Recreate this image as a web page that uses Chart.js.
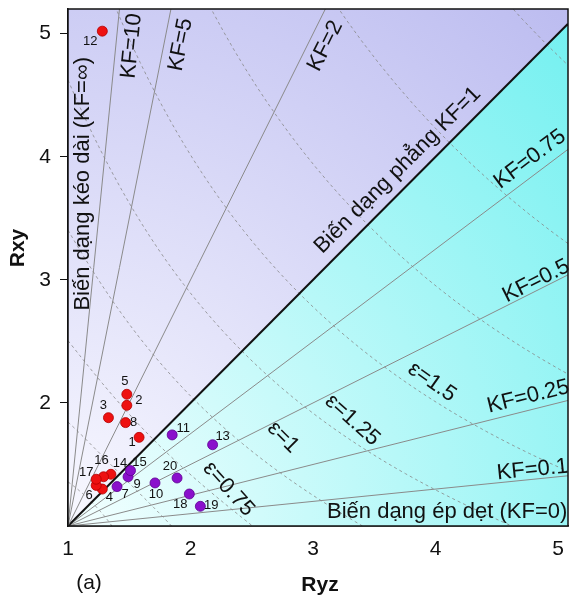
<!DOCTYPE html>
<html>
<head>
<meta charset="utf-8">
<script src="https://cdn.jsdelivr.net/npm/chart.js@4.4.1/dist/chart.umd.min.js"></script>
<style>
  html, body { margin: 0; padding: 0; background: #fff; }
  #wrap { width: 569px; height: 602px; }
</style>
</head>
<body>
<div id="wrap"><canvas id="myChart" width="569" height="602"></canvas></div>
<script>
// samples above the plane strain line (red) and below it (purple)
const redIds = [1, 2, 3, 4, 5, 6, 8, 12, 14, 16, 17];
const redRyz = [1.58, 1.48, 1.33, 1.28, 1.48, 1.23, 1.47, 1.28, 1.35, 1.29, 1.23];
const redRxy = [1.72, 1.98, 1.88, 1.30, 2.07, 1.33, 1.84, 5.02, 1.42, 1.40, 1.38];

const purpleIds = [7, 9, 10, 11, 13, 15, 18, 19, 20];
const purpleRyz = [1.40, 1.49, 1.71, 1.85, 2.18, 1.51, 1.99, 2.08, 1.89];
const purpleRxy = [1.32, 1.40, 1.35, 1.74, 1.66, 1.45, 1.26, 1.16, 1.39];

const kfValues = [10, 5, 2, 1, 0.75, 0.5, 0.25, 0.1];
const epsValues = [0.25, 0.5, 0.75, 1, 1.25, 1.5, 1.75, 2, 2.25];
const xTicks = [1, 2, 3, 4, 5];
const yTicks = [2, 3, 4, 5];

const X_MIN = 1, X_MAX = 5.08, Y_MIN = 1, Y_MAX = 5.2;
const FONT = 'Arial, "Liberation Sans", sans-serif';

// where the little sample numbers sit, in pixels from the dot
const labelOffset = {
  1: [-7, 5], 2: [12, -5], 3: [-5, -12], 4: [7, 8], 5: [-2, -13], 6: [-7, 10],
  7: [8, 8], 8: [8, 0], 9: [9, 8], 10: [1, 12], 11: [11, -6], 12: [-12, 10],
  13: [10, -8], 14: [9, -11], 15: [9, -8], 16: [-2, -16], 17: [-10, -7],
  18: [-9, 10], 19: [11, -1], 20: [-7, -12]
};

// texts on the diagram: [text, Ryz, Rxy, rotation deg]
const notes = [
  ['Biến dạng kéo dài (KF=∞)', 1.12, 3.78, -90],
  ['KF=10', 1.52, 4.90, -84.3],
  ['KF=5', 1.92, 4.91, -78.7],
  ['KF=2', 3.10, 4.90, -63.4],
  ['Biến dạng phẳng KF=1', 3.69, 3.89, -45],
  ['KF=0.75', 4.77, 3.98, -36.9],
  ['KF=0.5', 4.82, 2.99, -26.6],
  ['KF=0.25', 4.755, 2.05, -14],
  ['KF=0.1', 4.79, 1.455, -5.7],
  ['Biến dạng ép dẹt (KF=0)', 4.094, 1.114, 0],
  ['ε=0.75', 2.31, 1.30, 48],
  ['ε=1', 2.755, 1.72, 45],
  ['ε=1.25', 3.32, 1.86, 42],
  ['ε=1.5', 3.97, 2.17, 35]
];

function toPoints(xs, ys) {
  return xs.map((v, i) => ({ x: v, y: ys[i] }));
}

// KF lines start at (1,1): Rxy - 1 = KF * (Ryz - 1)
function kfLine(k) {
  const xe = Math.min(X_MAX, 1 + (Y_MAX - 1) / k);
  return [{ x: 1, y: 1 }, { x: xe, y: 1 + k * (xe - 1) }];
}

// natural octahedral strain contour
function epsCurve(e) {
  const pts = [];
  for (let i = 0; i <= 60; i++) {
    const t = (Math.PI / 2) * i / 60;
    const r = e * Math.sqrt(1.5 / (1 + Math.sin(t) * Math.cos(t)));
    pts.push({ x: Math.exp(r * Math.sin(t)), y: Math.exp(r * Math.cos(t)) });
  }
  return pts;
}

const datasets = [
  {
    data: toPoints(redRyz, redRxy),
    backgroundColor: '#ee1111',
    borderColor: '#b30000',
    borderWidth: 0.8,
    pointRadius: 5
  },
  {
    data: toPoints(purpleRyz, purpleRxy),
    backgroundColor: '#8a10cc',
    borderColor: '#5c0090',
    borderWidth: 0.8,
    pointRadius: 5
  }
];

kfValues.forEach(k => {
  datasets.push({
    data: kfLine(k),
    showLine: true,
    pointRadius: 0,
    borderColor: k === 1 ? '#111' : '#8a8a8a',
    borderWidth: k === 1 ? 2 : 1
  });
});

epsValues.forEach(e => {
  datasets.push({
    data: epsCurve(e),
    showLine: true,
    pointRadius: 0,
    borderColor: '#888',
    borderWidth: 0.8,
    borderDash: [3, 3]
  });
});

const backdrop = {
  id: 'backdrop',
  beforeDatasetsDraw(chart) {
    const { ctx, chartArea: a, scales: { x, y } } = chart;
    const ox = x.getPixelForValue(1), oy = y.getPixelForValue(1);
    const r = Math.hypot(a.right - ox, a.top - oy);
    ctx.save();
    ctx.beginPath();
    ctx.rect(a.left, a.top, a.width, a.height);
    ctx.clip();
    let g = ctx.createRadialGradient(ox, oy, 0, ox, oy, r);
    g.addColorStop(0, '#f4ffff');
    g.addColorStop(1, '#72f0f0');
    ctx.fillStyle = g;
    ctx.fillRect(a.left, a.top, a.width, a.height);

    g = ctx.createRadialGradient(ox, oy, 0, ox, oy, r);
    g.addColorStop(0, '#f8f8ff');
    g.addColorStop(1, '#bcbcf0');
    ctx.fillStyle = g;
    const far = 20;
    ctx.beginPath();
    ctx.moveTo(ox, oy);
    ctx.lineTo(x.getPixelForValue(far), y.getPixelForValue(far));
    ctx.lineTo(a.left, y.getPixelForValue(far));
    ctx.closePath();
    ctx.fill();
    ctx.restore();
  },
  afterDatasetsDraw(chart) {
    const { ctx, chartArea: a, scales: { x, y } } = chart;
    ctx.save();
    ctx.strokeStyle = '#111';
    ctx.lineWidth = 1.5;
    ctx.strokeRect(a.left, a.top, a.width, a.height);

    ctx.fillStyle = '#111';
    ctx.textAlign = 'center';
    ctx.textBaseline = 'middle';
    ctx.font = '22px ' + FONT;
    notes.forEach(n => {
      ctx.save();
      ctx.translate(x.getPixelForValue(n[1]), y.getPixelForValue(n[2]));
      ctx.rotate(n[3] * Math.PI / 180);
      ctx.fillText(n[0], 0, 0);
      ctx.restore();
    });

    ctx.font = '13px ' + FONT;
    [redIds, purpleIds].forEach((ids, di) => {
      const meta = chart.getDatasetMeta(di);
      ids.forEach((id, j) => {
        const p = meta.data[j];
        const o = labelOffset[id];
        ctx.fillText(String(id), p.x + o[0], p.y + o[1]);
      });
    });

    ctx.font = 'bold 21px ' + FONT;
    ctx.fillText('Ryz', 320, 585);
    ctx.save();
    ctx.translate(18, 248);
    ctx.rotate(-Math.PI / 2);
    ctx.fillText('Rxy', 0, 0);
    ctx.restore();
    ctx.font = '21px ' + FONT;
    ctx.fillText('(a)', 89, 583);
    ctx.restore();
  }
};

new Chart(document.getElementById('myChart'), {
  type: 'scatter',
  data: { datasets: datasets },
  options: {
    responsive: false,
    animation: false,
    devicePixelRatio: 1,
    layout: { autoPadding: false, padding: { top: 9, right: 1, left: 0, bottom: 0 } },
    plugins: { legend: { display: false }, tooltip: { enabled: false } },
    scales: {
      x: {
        type: 'linear',
        min: X_MIN,
        max: X_MAX,
        afterBuildTicks: s => { s.ticks = xTicks.map(v => ({ value: v })); },
        afterFit: s => { s.height = 76; s.paddingLeft = 0; s.paddingRight = 0; },
        grid: { display: true, drawOnChartArea: false, drawTicks: false },
        border: { display: true, color: '#111', width: 1.5 },
        ticks: { color: '#111', padding: 11, font: { size: 21, family: FONT } }
      },
      y: {
        type: 'linear',
        min: Y_MIN,
        max: Y_MAX,
        afterBuildTicks: s => { s.ticks = yTicks.map(v => ({ value: v })); },
        afterFit: s => { s.width = 68; s.paddingTop = 0; s.paddingBottom = 0; },
        grid: { display: true, drawOnChartArea: false, drawTicks: true, tickLength: 8, color: '#111' },
        border: { display: true, color: '#111', width: 1.5 },
        ticks: { color: '#111', padding: 9, font: { size: 21, family: FONT } }
      }
    }
  },
  plugins: [backdrop]
});
</script>
</body>
</html>
